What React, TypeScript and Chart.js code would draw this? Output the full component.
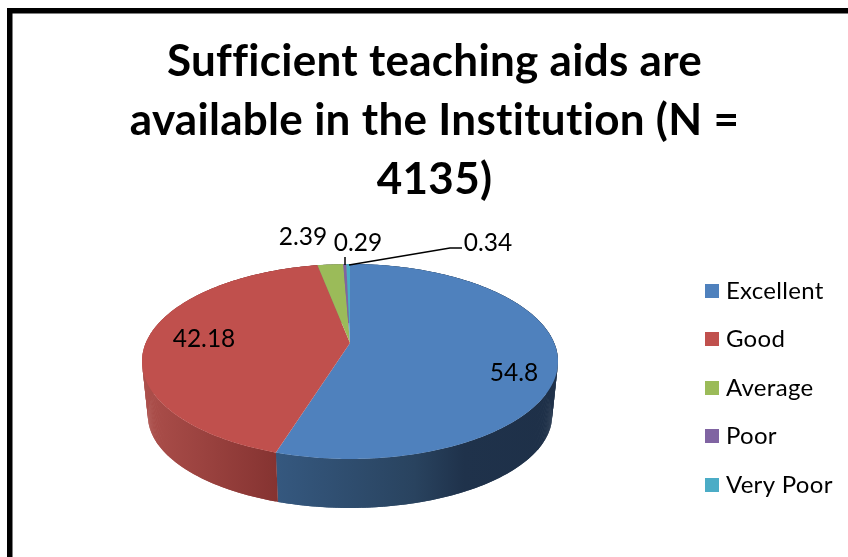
import React, { useEffect, useRef } from "react";
import { Chart, registerables } from "chart.js";

Chart.register(...registerables);

const categories = ["Excellent", "Good", "Average", "Poor", "Very Poor"];
const values = [54.8, 42.18, 2.39, 0.29, 0.34];
const titleLines = ["Sufficient teaching aids are", "available in the Institution (N =", "4135)"];
const sliceColors = ["#4f81bd", "#c0504d", "#9bbb59", "#8064a2", "#4bacc6"];

// Perspective of the disc (a homography of the unit circle).
const CX = 350;
const APEX_Y = 343;
const RX = 204.2;
const A = 28.9;
const C = -0.1897;
const WALL_BOTTOM = 508;
const FACE_BOTTOM = 459;
const WALL_SCALE_X = 0.972;
const WALL_SCALE_Y = 0.95;
const LEGEND_BOX = 14;

const project = (angle: number) => {
  const u = Math.cos(angle);
  const v = Math.sin(angle);
  const d = 1 + C * v;
  return { x: CX + (RX * u) / d, y: (A * v + APEX_Y) / d };
};
const lower = (p: { x: number; y: number }) => ({
  x: CX + (p.x - CX) * WALL_SCALE_X,
  y: WALL_BOTTOM + (p.y - FACE_BOTTOM) * WALL_SCALE_Y,
});
const arcPoints = (a: number, b: number) => {
  const n = Math.max(2, Math.ceil(Math.abs(b - a) / 0.01));
  const pts = [];
  for (let i = 0; i <= n; i++) pts.push(project(a + ((b - a) * i) / n));
  return pts;
};

const wallFill = (ctx: CanvasRenderingContext2D, index: number) => {
  if (index === 0) {
    const g = ctx.createLinearGradient(277, 0, 552, 0);
    g.addColorStop(0, "#35587f");
    g.addColorStop(0.5, "#29435f");
    g.addColorStop(0.68, "#1f324b");
    g.addColorStop(1, "#1e3048");
    return g;
  }
  if (index === 1) {
    const g = ctx.createLinearGradient(147, 0, 278, 0);
    g.addColorStop(0, "#ab4e4a");
    g.addColorStop(1, "#853331");
    return g;
  }
  return "#777";
};

const labelAnchors = [
  [514, 373],
  [204, 339],
  [303, 237],
  [358, 243],
  [488, 243],
];
const leaderLines = [
  [[345, 257], [345, 265]],
  [[349, 265], [450, 248], [462, 248]],
];

const swatch = (color: string) => {
  const c = document.createElement("canvas");
  c.width = LEGEND_BOX;
  c.height = LEGEND_BOX;
  const x = c.getContext("2d")!;
  x.fillStyle = color;
  x.fillRect(0, 0, LEGEND_BOX, LEGEND_BOX);
  return c;
};

const pie3d = {
  id: "pie3d",
  beforeDraw(chart: any) {
    const { ctx, width, height } = chart;
    ctx.letterSpacing = "0.3px";
    ctx.save();
    ctx.fillStyle = "#fff";
    ctx.fillRect(0, 0, width, height);
    ctx.fillStyle = "#000";
    ctx.fillRect(7, 8, width - 7, 5.5);
    ctx.fillRect(7, 8, 5.5, height - 8);
    ctx.restore();
  },
  beforeDatasetDraw(chart: any) {
    const { ctx } = chart;
    const arcs = chart.getDatasetMeta(0).data;
    ctx.save();
    arcs.forEach((el: any, i: number) => {
      const { startAngle, endAngle } = el.getProps(["startAngle", "endAngle"], true);
      const top = arcPoints(startAngle, endAngle);
      const bottom = top.map(lower);
      ctx.fillStyle = wallFill(ctx, i);
      for (let k = 0; k < top.length - 1; k++) {
        const e = Math.min(k + 2, top.length - 1);
        ctx.beginPath();
        ctx.moveTo(top[k].x, top[k].y);
        ctx.lineTo(top[e].x, top[e].y);
        ctx.lineTo(bottom[e].x, bottom[e].y);
        ctx.lineTo(bottom[k].x, bottom[k].y);
        ctx.closePath();
        ctx.fill();
      }
    });
    arcs.forEach((el: any, i: number) => {
      const { startAngle, endAngle } = el.getProps(["startAngle", "endAngle"], true);
      ctx.beginPath();
      ctx.moveTo(CX, APEX_Y);
      arcPoints(startAngle, endAngle).forEach((p) => ctx.lineTo(p.x, p.y));
      ctx.closePath();
      ctx.fillStyle = sliceColors[i];
      ctx.fill();
    });
    ctx.strokeStyle = "#000";
    ctx.lineWidth = 1.5;
    leaderLines.forEach((line) => {
      ctx.beginPath();
      line.forEach(([x, y], k) => (k ? ctx.lineTo(x, y) : ctx.moveTo(x, y)));
      ctx.stroke();
    });
    ctx.fillStyle = "#000";
    ctx.letterSpacing = "0px";
    ctx.font = "24.5px Lato";
    ctx.textAlign = "center";
    ctx.textBaseline = "middle";
    values.forEach((v, i) => ctx.fillText(String(v), labelAnchors[i][0], labelAnchors[i][1]));
    ctx.letterSpacing = "0.3px";
    ctx.restore();
    return false;
  },
};

export default function App() {
  const ref = useRef<HTMLCanvasElement>(null);
  useEffect(() => {
    const baseLabels = (Chart as any).overrides.pie.plugins.legend.labels.generateLabels;
    const chart = new Chart(ref.current!, {
      type: "pie",
      data: {
        labels: categories,
        datasets: [{ data: values, backgroundColor: sliceColors, borderWidth: 0 }],
      },
      options: {
        responsive: false,
        animation: false,
        layout: { padding: { left: 29, right: 8, top: 0, bottom: 0 } },
        plugins: {
          title: {
            display: true,
            text: titleLines,
            color: "#000",
            font: { family: "Lato", size: 44, weight: "bold", lineHeight: 1.34 },
            padding: { top: 32.5, bottom: 9.5 },
          },
          legend: {
            position: "right",
            fullSize: false,
            labels: {
              color: "#000",
              boxHeight: LEGEND_BOX,
              usePointStyle: true,
              pointStyleWidth: 4,
              padding: 24.5,
              font: { family: "Lato", size: 24 },
              generateLabels: (c: any) =>
                baseLabels(c).map((item: any, i: number) => ({ ...item, pointStyle: swatch(sliceColors[i]) })),
            },
          },
          tooltip: { enabled: false },
        },
      },
      plugins: [pie3d],
    } as any);
    return () => chart.destroy();
  }, []);
  return (
    <div style={{ position: "fixed", left: 0, top: 0, width: 848, height: 557 }}>
      <canvas ref={ref} width={848} height={557} style={{ display: "block" }} />
    </div>
  );
}
